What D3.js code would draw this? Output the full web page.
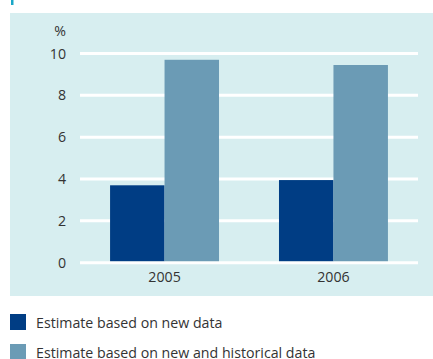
<!DOCTYPE html>
<html>
<head>
<meta charset="utf-8">
<script src="https://cdn.jsdelivr.net/npm/d3@7"></script>
<style>
body { margin: 0; background: #fff; }
text { font-family: "Open Sans", sans-serif; fill: #333; }
</style>
</head>
<body>
<div class="chart"></div>
<script>
var years = ["2005", "2006"];
var seriesNames = ["Estimate based on new data", "Estimate based on new and historical data"];
var newData = [3.7, 3.95];
var historicalData = [9.7, 9.45];
var yTicks = [0, 2, 4, 6, 8, 10];
var colors = ["#003d84", "#6b9bb5"];

var svgWidth = 433, svgHeight = 359;
var fontSize = "14.2px";
var svg = d3.select(".chart").append("svg")
    .attr("width", svgWidth)
    .attr("height", svgHeight);

// small accent mark at the top
svg.append("rect").attr("x", 11).attr("y", 0).attr("width", 2.5).attr("height", 5).attr("fill", "#1aa7c7");

// panel
svg.append("rect").attr("x", 10).attr("y", 13).attr("width", 423).attr("height", 283).attr("fill", "#d7eef0");

var x0 = d3.scaleBand().domain(years).range([80, 418]).paddingInner(0.355).paddingOuter(0.178);
var x1 = d3.scaleBand().domain([0, 1]).range([0, x0.bandwidth()]);
var y = d3.scaleLinear().domain([0, 10]).range([262.7, 53.5]);

// grid lines
svg.append("g").selectAll("line")
    .data(yTicks)
    .enter().append("line")
    .attr("x1", 80).attr("x2", 418)
    .attr("y1", function(d) { return y(d); })
    .attr("y2", function(d) { return y(d); })
    .attr("stroke", "#fff")
    .attr("stroke-width", 3);

var leftAxis = d3.axisLeft(y).tickValues(yTicks).tickSize(0).tickPadding(0);
var yAxis = svg.append("g").attr("transform", "translate(66,0)").call(leftAxis);
yAxis.select(".domain").remove();
yAxis.selectAll("text").style("font-size", fontSize).style("font-family", "'Open Sans', sans-serif").attr("fill", "#333");

svg.append("text").attr("x", 60).attr("y", 36).attr("text-anchor", "middle").style("font-size", fontSize).text("%");

var groups = svg.append("g").selectAll("g")
    .data(years)
    .enter().append("g")
    .attr("transform", function(d) { return "translate(" + x0(d) + ",0)"; });

groups.selectAll("rect")
    .data(function(d, i) { return [newData[i], historicalData[i]]; })
    .enter().append("rect")
    .attr("x", function(d, j) { return x1(j); })
    .attr("width", x1.bandwidth())
    .attr("y", function(d) { return y(d); })
    .attr("height", function(d) { return y(0) - 1.5 - y(d); })
    .attr("fill", function(d, j) { return colors[j]; });

var bottomAxis = d3.axisBottom(x0).tickSize(0).tickPadding(0);
var xAxis = svg.append("g").attr("transform", "translate(0,272)").call(bottomAxis);
xAxis.select(".domain").remove();
xAxis.selectAll("text").style("font-size", fontSize).style("font-family", "'Open Sans', sans-serif").attr("fill", "#333");

// legend
var legend = svg.append("g").selectAll("g")
    .data(seriesNames)
    .enter().append("g")
    .attr("transform", function(d, i) { return "translate(10," + (314 + i * 30) + ")"; });
legend.append("rect").attr("width", 16).attr("height", 16).attr("fill", function(d, i) { return colors[i]; });
legend.append("text").attr("x", 26).attr("y", 13.5).style("font-size", fontSize).text(function(d) { return d; });
</script>
</body>
</html>
